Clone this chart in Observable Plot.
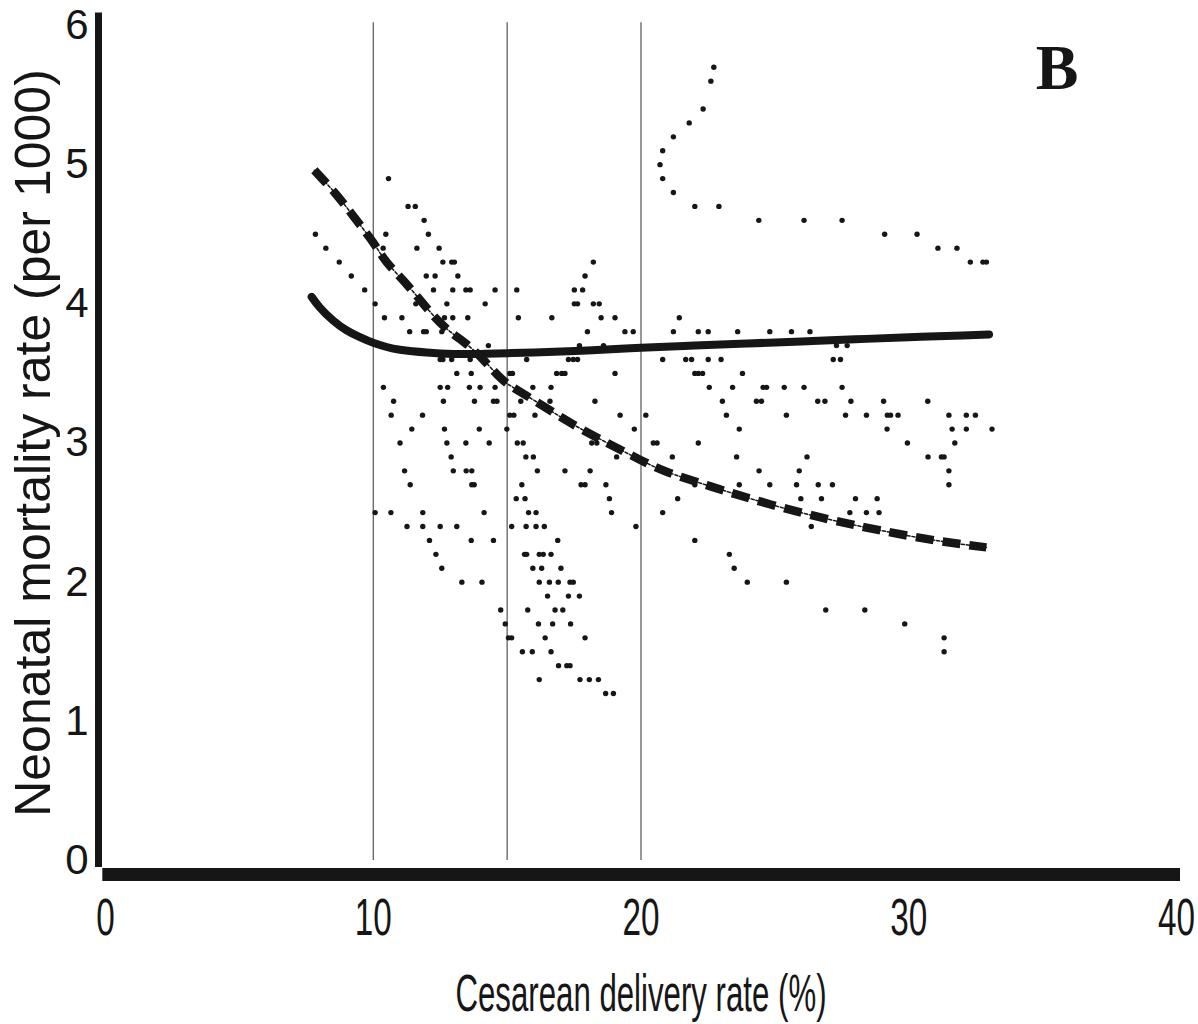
<!DOCTYPE html>
<html>
<head>
<meta charset="utf-8">
<script src="https://cdn.jsdelivr.net/npm/d3@7"></script>
<script src="https://cdn.jsdelivr.net/npm/@observablehq/plot@0.6"></script>
<style>
  html, body { margin: 0; padding: 0; background: #fff; }
  #chart svg { display: block; }
</style>
</head>
<body>
<div id="chart"></div>
<script>
// ---- Data ----
const xTicks = [0, 10, 20, 30, 40];
const yTicks = [0, 1, 2, 3, 4, 5, 6];
const refLines = [10, 15, 20];

const xLabel = "Cesarean delivery rate (%)";
const yLabel = "Neonatal mortality rate (per 1000)";
const panelLabel = "B";

// scatter: one list of x values per row (y quantised to 0.1)
const rowY = [5.7, 5.6, 5.4, 5.3, 5.2, 5.1, 5.0, 4.9, 4.8, 4.7, 4.6, 4.5, 4.4, 4.3, 4.2, 4.1, 4.0,
  3.9, 3.8, 3.7, 3.6, 3.5, 3.4, 3.3, 3.2, 3.1, 3.0, 2.9, 2.8, 2.7, 2.6, 2.5, 2.4, 2.3, 2.2, 2.1,
  2.0, 1.9, 1.8, 1.7, 1.6, 1.5, 1.4, 1.3, 1.2];
const rowX = [
  [22.72],
  [22.61],
  [22.32],
  [21.8],
  [21.21],
  [20.81],
  [20.71],
  [10.57, 20.81],
  [21.21],
  [11.3, 11.57, 22.01, 22.91],
  [11.9, 24.4, 26.09, 27.51],
  [7.84, 10.47, 12.06, 29.1, 30.31],
  [8.23, 10.37, 11.63, 12.46, 31.09, 31.8],
  [8.73, 12.6, 12.93, 13.03, 18.22, 32.3, 32.77, 32.9],
  [9.18, 11.98, 12.31, 13.16, 17.91],
  [9.68, 12.25, 12.97, 13.46, 13.62, 14.55, 15.36, 17.51, 17.82],
  [10.07, 11.59, 12.75, 14.18, 17.51, 17.63, 18.22, 18.44],
  [10.42, 11.07, 12.66, 12.97, 13.53, 15.42, 16.67, 18.51, 19.03, 21.43],
  [11.36, 11.88, 11.98, 12.56, 18.0, 19.4, 19.71, 21.21, 22.14, 22.51, 23.61, 24.81, 25.62, 26.31],
  [14.3, 17.7, 18.6, 27.3, 27.7],
  [12.5, 12.6, 12.93, 13.62, 15.73, 17.29, 17.47, 17.63, 20.81, 21.67, 21.89, 22.51, 22.99, 27.18, 27.45],
  [13.12, 13.66, 15.1, 15.2, 16.85, 17.04, 17.16, 19.03, 22.01, 22.14, 22.3, 23.79],
  [10.38, 12.5, 12.78, 13.59, 13.99, 14.55, 15.96, 16.64, 22.55, 23.42, 24.56, 24.69, 25.35, 26.09, 27.51],
  [10.76, 12.62, 13.78, 14.49, 14.62, 15.51, 16.6, 18.28, 23.04, 24.31, 24.5, 26.6, 26.87, 27.84, 29.06, 30.71],
  [10.67, 11.84, 15.1, 15.25, 16.04, 19.22, 20.18, 23.19, 25.43, 27.64, 28.42, 29.2, 29.32, 29.6, 31.5, 32.15, 32.49],
  [11.44, 12.66, 13.96, 14.99, 19.75, 23.67, 29.19, 31.62, 32.15, 33.11],
  [11.0, 12.75, 13.46, 14.33, 15.38, 15.6, 18.16, 18.35, 20.46, 20.6, 22.14, 29.95, 31.72],
  [12.91, 15.7, 15.98, 19.09, 19.78, 21.17, 23.57, 26.2, 30.72, 31.22, 31.32],
  [11.17, 12.99, 13.47, 13.68, 16.13, 17.16, 18.1, 24.41, 25.91, 31.5],
  [11.38, 13.68, 13.77, 15.55, 17.76, 17.91, 18.69, 22.01, 23.67, 24.81, 25.81, 26.62, 27.15, 31.5],
  [15.34, 15.67, 18.82, 21.37, 25.97, 26.74, 28.01, 28.82],
  [10.07, 10.66, 11.85, 14.14, 15.8, 16.08, 18.9, 20.81, 27.8, 28.42, 28.89],
  [11.26, 11.85, 12.5, 13.12, 15.17, 15.71, 16.08, 16.39, 19.81, 26.36],
  [12.1, 13.66, 14.49, 16.89, 22.01],
  [12.34, 15.65, 15.73, 16.2, 16.35, 16.64, 23.3],
  [12.56, 15.96, 16.29, 17.01, 23.48],
  [13.31, 14.06, 16.2, 16.58, 16.91, 17.35, 17.47, 23.97, 25.43],
  [16.51, 17.29, 17.7],
  [14.76, 15.77, 16.79, 17.08, 26.9, 28.36],
  [14.93, 16.17, 16.7, 17.37, 29.85],
  [15.05, 15.17, 16.42, 17.91, 31.32],
  [15.57, 15.94, 16.64, 31.32],
  [16.92, 17.23, 17.35],
  [16.2, 17.72, 18.07, 18.41],
  [18.68, 18.97]
];

// solid fitted curve
const solidX = [7.7, 8.0, 8.5, 9.0, 9.5, 10, 10.5, 11, 12, 13, 14, 15, 16, 18, 20, 22, 24, 26, 28, 30, 32, 33];
const solidY = [4.05, 3.975, 3.88, 3.81, 3.76, 3.72, 3.69, 3.67, 3.65, 3.64, 3.64, 3.645, 3.65, 3.665, 3.685, 3.70, 3.715, 3.73, 3.745, 3.76, 3.772, 3.78];

// dashed fitted curve
const dashX = [7.8, 8.6, 9.3, 10, 10.5, 11.25, 12, 12.75, 13.55, 14.2, 14.74, 15.22, 16.23, 17.23, 18.35, 19.96, 21, 22.57, 24.81, 27.05, 29, 31, 32.9];
const dashY = [4.96, 4.79, 4.62, 4.44, 4.30, 4.14, 3.97, 3.82, 3.70, 3.58, 3.47, 3.40, 3.28, 3.16, 3.04, 2.88, 2.79, 2.69, 2.56, 2.45, 2.37, 2.30, 2.25];

// ---- build tables ----
const scatter = rowY.flatMap((y, i) => rowX[i].map(x => ({x, y})));
const solid = solidX.map((x, i) => ({x, y: solidY[i]}));
const dashed = dashX.map((x, i) => ({x, y: dashY[i]}));

const ink = "#161616";

const svg = Plot.plot({
  width: 1198,
  height: 1024,
  marginLeft: 105,
  marginRight: 22,
  marginTop: 25,
  marginBottom: 164,
  style: {background: "#fff", fontFamily: "'Liberation Sans', Arial, sans-serif", color: ink},
  x: {domain: [0, 40], ticks: xTicks, label: null},
  y: {domain: [0, 6], ticks: yTicks, label: null},
  marks: [
    Plot.axisX({ticks: xTicks, tickSize: 0, tickPadding: 38, fontSize: 52, label: null, tickFormat: d => String(d)}),
    Plot.axisY({ticks: yTicks, tickSize: 0, tickPadding: 17, fontSize: 42, label: null, tickFormat: d => String(d)}),
    // reference verticals
    Plot.ruleX(refLines, {y1: 0, y2: 6.02, stroke: "#444", strokeWidth: 1.1}),
    // scatter
    Plot.dot(scatter, {x: "x", y: "y", r: 2.7, fill: ink, stroke: "none"}),
    // solid curve
    Plot.line(solid, {x: "x", y: "y", stroke: ink, strokeWidth: 8, curve: "natural", strokeLinecap: "round"}),
    // dashed curve: thin connector + thick dashes
    Plot.line(dashed, {x: "x", y: "y", stroke: ink, strokeWidth: 1.5, strokeDasharray: "3,2", curve: "natural"}),
    Plot.line(dashed, {x: "x", y: "y", stroke: ink, strokeWidth: 8.5, strokeDasharray: "18,9", curve: "natural", strokeLinecap: "butt"}),
    // thick axis lines
    Plot.ruleX([0], {y1: -0.05, y2: 6.09, dx: -7, stroke: ink, strokeWidth: 7}),
    Plot.ruleY([0], {x1: -0.1, x2: 40.15, dy: 14, stroke: ink, strokeWidth: 13}),
    // titles
    Plot.text([xLabel], {text: d => d, frameAnchor: "bottom", dy: 150, fontSize: 52, fill: ink}),
    Plot.text([yLabel], {text: d => d, frameAnchor: "left", textAnchor: "middle", rotate: -90, dx: -72, fontSize: 50, fill: ink}),
    Plot.text([panelLabel], {text: d => d, frameAnchor: "top-right", textAnchor: "end", lineAnchor: "top", dx: -98, dy: 18, fontSize: 64, fontWeight: "bold", fontFamily: "'Liberation Serif', 'Times New Roman', serif", fill: ink})
  ]
});

function condenseText(t, s) {
  const x = t.getAttribute("x");
  if (x != null) t.setAttribute("x", +x / s);
  t.setAttribute("transform", (t.getAttribute("transform") || "") + ` scale(${s},1)`);
}
for (const t of svg.querySelectorAll('g[aria-label="x-axis tick label"] text')) condenseText(t, 0.64);
for (const t of svg.querySelectorAll("text")) {
  if (t.textContent === xLabel) condenseText(t, 0.6);
}

document.getElementById("chart").appendChild(svg);
</script>
</body>
</html>
